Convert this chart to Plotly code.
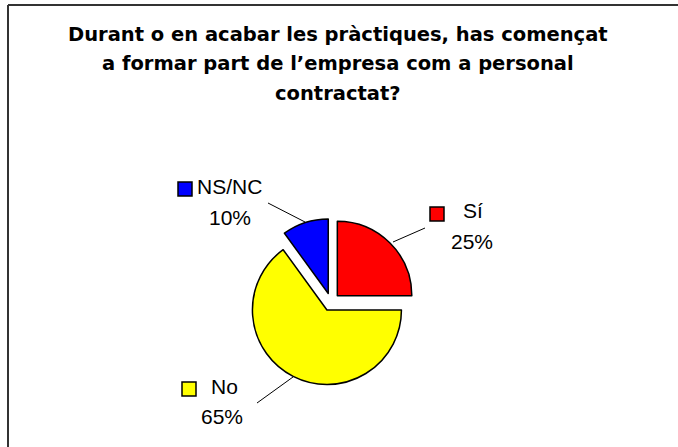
import plotly.graph_objects as go

# survey answers
labels = ['Sí', 'No', 'NS/NC']
values = [25, 65, 10]
colors = ['#ff0000', '#ffff00', '#0000ff']

W, H = 678, 447

def px(x):
    return x / W

def py(y):
    return 1 - y / H

# pie centre / size in pixels
cx, cy, r, pull = 331, 302, 74.5, 0.12
half = r * (1 + pull)

fig = go.Figure(go.Pie(
    labels=labels,
    values=values,
    sort=False,
    direction='clockwise',
    rotation=0,
    pull=[pull] * len(values),
    marker=dict(colors=colors, line=dict(color='black', width=1.5)),
    textinfo='none',
    hoverinfo='label+percent',
    domain=dict(x=[px(cx - half), px(cx + half)], y=[py(cy + half), py(cy - half)]),
    showlegend=False,
))

total = sum(values)
font = dict(family='Liberation Sans, Arial, sans-serif', size=21, color='black')

# label positions: (square x0, y0), name centre, pct centre, leader line
label_pos = {
    'Sí': dict(sq=(430, 207), name=(473, 210), pct=(472, 241), line=(425, 228, 393, 242)),
    'No': dict(sq=(182, 382), name=(224, 386), pct=(222, 416), line=(257, 403, 293, 377)),
    'NS/NC': dict(sq=(178, 182), name=(229, 186), pct=(230, 217), line=(268, 203, 305, 222)),
}

# chart-area border: only top and left edges are visible
shapes = [
    dict(type='line', xref='paper', yref='paper', x0=px(8), x1=1, y0=py(5), y1=py(5),
         line=dict(color='#333333', width=2)),
    dict(type='line', xref='paper', yref='paper', x0=px(8), x1=px(8), y0=py(5), y1=0,
         line=dict(color='#333333', width=2)),
]
annotations = []
for lab, val, col in zip(labels, values, colors):
    p = label_pos[lab]
    sx, sy = p['sq']
    shapes.append(dict(type='rect', xref='paper', yref='paper',
                       x0=px(sx), x1=px(sx + 14), y0=py(sy + 14), y1=py(sy),
                       line=dict(color='black', width=1.5), fillcolor=col))
    x0, y0, x1, y1 = p['line']
    shapes.append(dict(type='line', xref='paper', yref='paper',
                       x0=px(x0), y0=py(y0), x1=px(x1), y1=py(y1),
                       line=dict(color='black', width=1)))
    nx, ny = p['name']
    annotations.append(dict(text=lab, x=px(nx), y=py(ny), xref='paper', yref='paper',
                            showarrow=False, font=font, xanchor='center', yanchor='middle'))
    qx, qy = p['pct']
    annotations.append(dict(text=f'{round(100 * val / total)}%', x=px(qx), y=py(qy),
                            xref='paper', yref='paper', showarrow=False, font=font,
                            xanchor='center', yanchor='middle'))

title_lines = ['Durant o en acabar les pràctiques, has començat',
               'a formar part de l’empresa com a personal',
               'contractat?']
for i, t in enumerate(title_lines):
    annotations.append(dict(text=f'<b>{t}</b>', x=px(338), y=py(34 + 29.5 * i),
                            xref='paper', yref='paper', showarrow=False,
                            font=dict(family='DejaVu Sans, sans-serif', size=19.5, color='black'),
                            xanchor='center', yanchor='middle'))

fig.update_layout(
    width=W, height=H,
    margin=dict(l=0, r=0, t=0, b=0),
    paper_bgcolor='white',
    plot_bgcolor='white',
    shapes=shapes,
    annotations=annotations,
)

fig.write_html('out.html', config={'displayModeBar': False},
               post_script="document.body.style.margin='0px';"
                           "document.body.style.overflow='hidden';")
